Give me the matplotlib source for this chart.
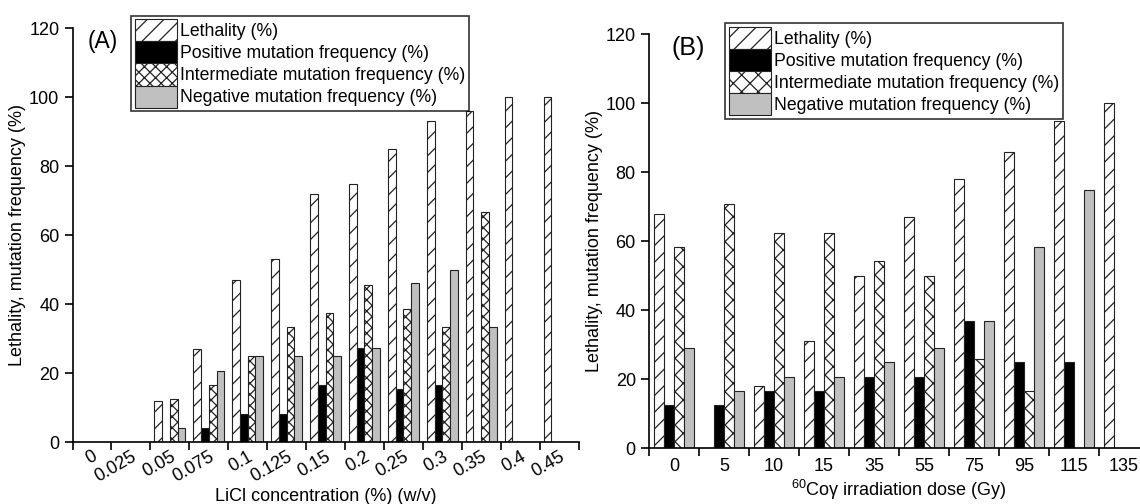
import numpy as np
import matplotlib
matplotlib.use("Agg")
import matplotlib.pyplot as plt
import matplotlib.transforms as mtransforms

plt.rcParams['font.family'] = ['Liberation Sans', 'DejaVu Sans']
plt.rcParams['hatch.linewidth'] = 0.9

# Panel A: LiCl
licl = ['0', '0.025', '0.05', '0.075', '0.1', '0.125', '0.15', '0.2', '0.25', '0.3', '0.35', '0.4', '0.45']
a_leth = [0, 0, 12, 27, 47, 53, 72, 75, 85, 93, 96, 100, 100]
a_pos = [0, 0, 0, 4.2, 8.3, 8.3, 16.7, 27.3, 15.4, 16.7, 0, 0, 0]
a_int = [0, 0, 12.5, 16.7, 25, 33.3, 37.5, 45.5, 38.5, 33.3, 66.7, 0, 0]
a_neg = [0, 0, 4.2, 20.8, 25, 25, 25, 27.3, 46.2, 50, 33.3, 0, 0]

# Panel B: 60Co gamma
dose = ['0', '5', '10', '15', '35', '55', '75', '95', '115', '135']
b_leth = [68, 0, 18, 31, 50, 67, 78, 86, 95, 100]
b_pos = [12.5, 12.5, 16.7, 16.7, 20.8, 20.8, 37, 25, 25, 0]
b_int = [58.3, 70.8, 62.5, 62.5, 54.2, 50, 26, 16.7, 0, 0]
b_neg = [29.2, 16.7, 20.8, 20.8, 25, 29.2, 37, 58.3, 75, 0]

names = ['Lethality (%)', 'Positive mutation frequency (%)',
         'Intermediate mutation frequency (%)', 'Negative mutation frequency (%)']

fig = plt.figure(figsize=(11.4, 5.04), dpi=100)
axA = fig.add_axes([0.0636, 0.1224, 0.4439, 0.8214])
axB = fig.add_axes([0.5693, 0.1105, 0.4386, 0.8214])


def panel(ax, cats, series, hatches, tag, tag_x, tag_fs, xlabel, rot, leg_at):
    x = np.arange(len(cats))
    w = 0.2
    styles = [dict(facecolor='white', hatch=hatches[0]),
              dict(facecolor='black'),
              dict(facecolor='white', hatch=hatches[1]),
              dict(facecolor='#c0c0c0')]
    for i, (vals, st) in enumerate(zip(series, styles)):
        ax.bar(x + (i - 1.5) * w, vals, w, edgecolor='#222222', linewidth=0.8,
               label=names[i], **st)
    ax.set_xlim(-0.5, len(cats) - 0.5)
    ax.set_ylim(0, 120)
    ax.set_yticks([0, 20, 40, 60, 80, 100, 120])
    # ticks on the category borders, labels in the middle
    ax.set_xticks(np.arange(len(cats) + 1) - 0.5)
    ax.set_xticklabels([])
    ax.set_xticks(x, minor=True)
    if rot:
        ax.set_xticklabels(cats, minor=True, rotation=30, ha='right',
                           rotation_mode='anchor')
        off = mtransforms.ScaledTranslation(0.05, 0, fig.dpi_scale_trans)
        for lab in ax.get_xticklabels(minor=True):
            lab.set_transform(lab.get_transform() + off)
        ax.tick_params(axis='x', which='minor', length=0, labelsize=13, pad=4)
    else:
        ax.set_xticklabels(cats, minor=True)
        ax.tick_params(axis='x', which='minor', length=0, labelsize=13, pad=7)
    ax.tick_params(axis='both', which='major', length=6, width=1.2,
                   direction='out', labelsize=13)
    for s in ['top', 'right']:
        ax.spines[s].set_visible(False)
    for s in ['left', 'bottom']:
        ax.spines[s].set_linewidth(1.2)
    ax.set_ylabel('Lethality, mutation frequency (%)', fontsize=13, labelpad=2)
    ax.set_xlabel(xlabel, fontsize=13, labelpad=2)
    ax.text(tag_x, 0.995, tag, transform=ax.transAxes, fontsize=tag_fs, va='top')
    leg = ax.legend(loc='upper left', bbox_to_anchor=leg_at,
                    bbox_transform=fig.transFigure, borderaxespad=0,
                    fontsize=12.7, frameon=True, fancybox=False,
                    edgecolor='black', borderpad=0.2, labelspacing=0.0,
                    handlelength=2.4, handleheight=1.55, handletextpad=0.2)
    leg.get_frame().set_linewidth(1.2)


panel(axA, licl, [a_leth, a_pos, a_int, a_neg], ['//', 'xxx'], '(A)', 0.03, 16.5,
      'LiCl concentration (%) (w/v)', True, (0.1149, 0.9688))
panel(axB, dose, [b_leth, b_pos, b_int, b_neg], ['//', 'xx'], '(B)', 0.045, 18,
      r'$^{\mathregular{60}}$Coγ irradiation dose (Gy)', False, (0.636, 0.9537))

fig.savefig('out.png', dpi=100)
